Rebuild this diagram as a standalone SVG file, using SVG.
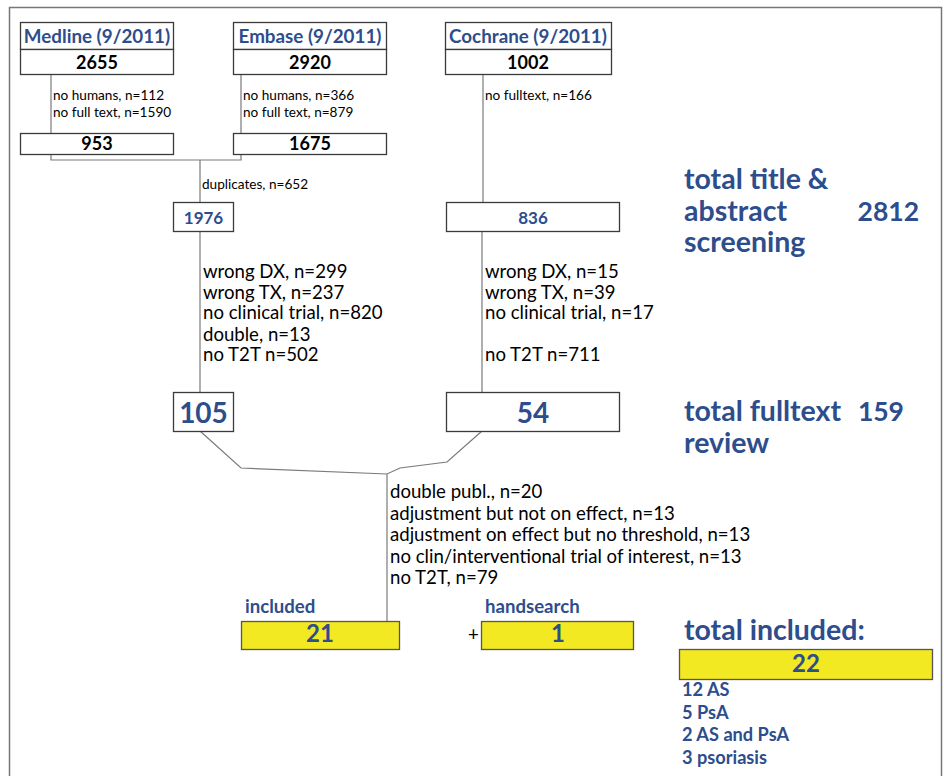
<svg xmlns="http://www.w3.org/2000/svg" width="944" height="776" viewBox="0 0 944 776">
<style>
text{font-family:Lato,"Open Sans","Liberation Sans",sans-serif}
.box{fill:#fff;stroke:#3a3a3a;stroke-width:1.3}
.yel{fill:#f2e923;stroke:#555;stroke-width:1.3}
.con{fill:none;stroke:#7a7a7a;stroke-width:1.2}
.hd{fill:#2d4d8c;font-weight:bold;font-size:18.8px;text-anchor:middle}
.num{fill:#000;font-weight:bold;font-size:18px;text-anchor:middle}
.bn{fill:#2d4d8c;font-weight:bold;text-anchor:middle}
.sm{fill:#000;font-size:13.6px}
.md{fill:#000;font-size:18.6px}
.big{fill:#2d4d8c;font-weight:bold;font-size:28.5px}
.bignum{fill:#2d4d8c;font-weight:bold;font-size:26.5px;text-anchor:end}
.lab{fill:#2d4d8c;font-weight:bold;font-size:18.6px}
.cat{fill:#2d4d8c;font-weight:bold;font-size:18.2px}
</style>
<rect x="0" y="0" width="944" height="776" fill="#fff"/>
<path d="M9.5 780V7.5H941.5V780" fill="none" stroke="#777" stroke-width="1.5"/>

<g id="connectors">
<path class="con" d="M51 74V133M241 74V133M51 154V160H241V154M200 160V202M483 74V202M200 231V392M482 231V392M200 431L241 468L387 474L400 468L447 462L482 431M387 474V621"/>
</g>

<g id="medline">
<rect class="box" x="20.5" y="22.5" width="153" height="27"/>
<rect class="box" x="20.5" y="49.5" width="153" height="25"/>
<text class="hd" x="97" y="43">Medline (9/2011)</text>
<text class="num" x="97" y="69">2655</text>
</g>
<g id="embase">
<rect class="box" x="233.5" y="22.5" width="153" height="27"/>
<rect class="box" x="233.5" y="49.5" width="153" height="25"/>
<text class="hd" x="310" y="43">Embase (9/2011)</text>
<text class="num" x="310" y="69">2920</text>
</g>
<g id="cochrane">
<rect class="box" x="445.5" y="22.5" width="166" height="27"/>
<rect class="box" x="445.5" y="49.5" width="166" height="25"/>
<text class="hd" x="528" y="43">Cochrane (9/2011)</text>
<text class="num" x="528" y="69">1002</text>
</g>

<g id="medline-excl">
<text class="sm" x="53" y="100">no humans, n=112</text>
<text class="sm" x="53" y="117">no full text, n=1590</text>
</g>
<g id="embase-excl">
<text class="sm" x="243" y="100">no humans, n=366</text>
<text class="sm" x="243" y="117">no full text, n=879</text>
</g>
<g id="cochrane-excl">
<text class="sm" x="485" y="100">no fulltext, n=166</text>
</g>

<g id="n953">
<rect class="box" x="20.5" y="133.5" width="153" height="21"/>
<text class="num" x="97" y="150">953</text>
</g>
<g id="n1675">
<rect class="box" x="233.5" y="133.5" width="153" height="21"/>
<text class="num" x="310" y="150">1675</text>
</g>

<g id="dup">
<text class="sm" x="202" y="189">duplicates, n=652</text>
</g>

<g id="n1976">
<rect class="box" x="173.5" y="202.5" width="60" height="29"/>
<text class="bn" x="203.5" y="224" font-size="17">1976</text>
</g>
<g id="n836">
<rect class="box" x="446.5" y="202.5" width="173" height="29"/>
<text class="bn" x="533" y="224" font-size="17">836</text>
</g>

<g id="excl-left">
<text class="md" x="203" y="278">wrong DX, n=299</text>
<text class="md" x="203" y="299">wrong TX, n=237</text>
<text class="md" x="203" y="319">no clinical trial, n=820</text>
<text class="md" x="203" y="341">double, n=13</text>
<text class="md" x="203" y="361">no T2T n=502</text>
</g>
<g id="excl-right">
<text class="md" x="485" y="278">wrong DX, n=15</text>
<text class="md" x="485" y="299">wrong TX, n=39</text>
<text class="md" x="485" y="319">no clinical trial, n=17</text>
<text class="md" x="485" y="361">no T2T n=711</text>
</g>

<g id="total-screening">
<text class="big" x="684" y="189">total title &amp;<tspan x="684" y="221">abstract</tspan><tspan x="684" y="252">screening</tspan></text>
<text class="bignum" x="919" y="221">2812</text>
</g>

<g id="n105">
<rect class="box" x="173.5" y="392.5" width="60" height="39"/>
<text class="bn" x="203.5" y="423" font-size="28">105</text>
</g>
<g id="n54">
<rect class="box" x="446.5" y="392.5" width="173" height="39"/>
<text class="bn" x="533" y="423" font-size="28">54</text>
</g>

<g id="total-fulltext">
<text class="big" x="684" y="421">total fulltext<tspan x="684" y="453">review</tspan></text>
<text class="bignum" x="904" y="421">159</text>
</g>

<g id="excl-fulltext">
<text class="md" x="390" y="498">double publ., n=20</text>
<text class="md" x="390" y="520">adjustment but not on effect, n=13</text>
<text class="md" x="390" y="541">adjustment on effect but no threshold, n=13</text>
<text class="md" x="390" y="563">no clin/interventional trial of interest, n=13</text>
<text class="md" x="390" y="584">no T2T, n=79</text>
</g>

<g id="included">
<text class="lab" x="245" y="613">included</text>
<rect class="yel" x="241.5" y="621.5" width="158" height="28"/>
<text class="bn" x="320" y="642" font-size="24">21</text>
</g>
<g id="plus"><text class="md" x="468" y="641" font-size="14">+</text></g>
<g id="handsearch">
<text class="lab" x="485" y="613">handsearch</text>
<rect class="yel" x="481.5" y="621.5" width="152" height="28"/>
<text class="bn" x="558" y="642" font-size="24">1</text>
</g>

<g id="total-included">
<text class="big" x="684" y="640" font-size="27.5">total included:</text>
<rect class="yel" x="679.5" y="649.5" width="253" height="30"/>
<text class="bn" x="806" y="672" font-size="24">22</text>
<text class="cat" x="682" y="696">12 AS</text>
<text class="cat" x="682" y="719">5 PsA</text>
<text class="cat" x="682" y="741">2 AS and PsA</text>
<text class="cat" x="682" y="764">3 psoriasis</text>
</g>
</svg>
